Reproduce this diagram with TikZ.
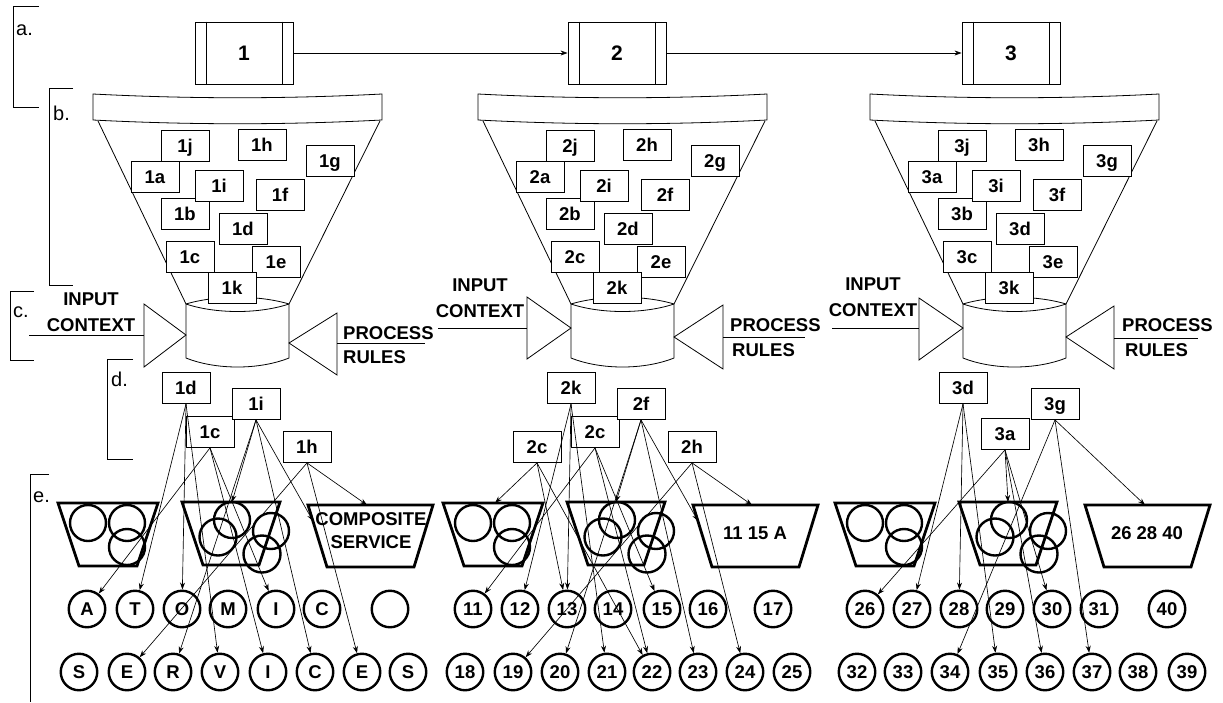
\documentclass[tikz,border=0pt]{standalone}
\usepackage{fontspec}
\setmainfont{Liberation Sans}
\usetikzlibrary{arrows.meta,calc}
\begin{document}
\begin{tikzpicture}[x=1pt,y=-1pt,
  fl/.style={line width=0.8pt},
  brk/.style={line width=0.8pt},
  blbl/.style={font=\fontsize{20}{20}\selectfont, inner sep=0pt},
  ibox/.style={draw, fill=white, line width=0.8pt, minimum width=48pt, minimum height=31pt, inner sep=0pt, text height=13pt, text depth=0pt, font=\fontsize{18.5}{18.5}\selectfont\bfseries},
  pbox/.style={draw, fill=white, line width=0.9pt, minimum width=98pt, minimum height=62pt, inner sep=0pt, font=\fontsize{21}{21}\selectfont\bfseries},
  svc/.style={circle, draw, line width=2.4pt, minimum size=36.5pt, inner sep=0pt, text height=13pt, text depth=0pt, font=\fontsize{18.5}{18.5}\selectfont\bfseries},
  lbl/.style={font=\fontsize{18.5}{26}\selectfont\bfseries, inner sep=0pt, align=center},
  trap/.style={line width=2.8pt, line join=miter},
  cir/.style={line width=2.4pt},
  arr/.style={line width=0.65pt, -{Stealth[length=7pt,width=5pt]}},
]
\useasboundingbox (0,0) rectangle (1223,702);

% ---------- brackets ----------
\draw[brk] (39,6) -- (13,6) -- (13,107) -- (39,107);
\node[blbl, anchor=base west] (la) at (16,35) {a.};
\draw[brk] (73,88) -- (49,88) -- (49,285) -- (73,285);
\node[blbl, anchor=base west] (lb) at (53,120) {b.};
\draw[brk] (34,291) -- (10,291) -- (10,360) -- (34,360);
\node[blbl, anchor=base west] (lc) at (13,317) {c.};
\draw[brk] (133,359) -- (107,359) -- (107,459) -- (133,459);
\node[blbl, anchor=base west] (ld) at (111,386) {d.};
\draw[brk] (49,474) -- (30,474) -- (30,702);
\node[blbl, anchor=base west] (le) at (33,502) {e.};

% ---------- process boxes ----------
\node[pbox] (P1) at (244,53) {1};
\node[pbox] (P2) at (617,53) {2};
\node[pbox] (P3) at (1011,53) {3};
\foreach \p in {P1,P2,P3} {
  \draw[line width=0.9pt] ($(\p.north west)+(12,0)$) -- ($(\p.south west)+(12,0)$);
  \draw[line width=0.9pt] ($(\p.north east)+(-11,0)$) -- ($(\p.south east)+(-11,0)$);
}
\draw[arr] (P1) -- (P2);
\draw[arr] (P2) -- (P3);

% ---------- funnels and cylinders ----------
\foreach \dx in {0,385,777} {
  \draw[fl] (93+\dx,94) .. controls (190+\dx,99) and (285+\dx,99) .. (382+\dx,94) -- (382+\dx,120) .. controls (285+\dx,125) and (190+\dx,125) .. (93+\dx,120) -- cycle;
  \draw[fl] (98+\dx,121) -- (186+\dx,304);
  \draw[fl] (380+\dx,121) -- (289+\dx,304);
  \draw[fl] (186+\dx,304) .. controls (216+\dx,295) and (259+\dx,295) .. (289+\dx,304);
  \draw[fl] (186+\dx,304) .. controls (216+\dx,314) and (259+\dx,314) .. (289+\dx,304);
  \draw[fl] (186+\dx,304) -- (186+\dx,358) .. controls (216+\dx,370) and (259+\dx,370) .. (289+\dx,358) -- (289+\dx,304);
}

% ---------- input / process triangles ----------
\draw[fl] (144,304) -- (186,335) -- (144,367) -- cycle;
\draw[fl] (29,335) -- (144,335);
\draw[fl] (337,313) -- (289,343) -- (337,375) -- cycle;
\draw[fl] (337,343) -- (425,343);
\draw[fl] (527,297) -- (571,328) -- (527,359) -- cycle;
\draw[fl] (438,328) -- (527,328);
\draw[fl] (723,305) -- (674,337) -- (723,369) -- cycle;
\draw[fl] (723,337) -- (805,337);
\draw[fl] (919,298) -- (963,328) -- (919,360) -- cycle;
\draw[fl] (832,328) -- (919,328);
\draw[fl] (1114,306) -- (1066,337) -- (1114,369) -- cycle;
\draw[fl] (1114,338) -- (1198,338);

\node[lbl] (ic1) at (91,312) {INPUT\\CONTEXT};
\node[lbl] (ic2) at (480,298) {INPUT\\CONTEXT};
\node[lbl] (ic3) at (873,297) {INPUT\\CONTEXT};
\node[lbl, anchor=west] (pr1) at (343,333) {PROCESS};
\node[lbl, anchor=west] (ru1) at (343,357) {RULES};
\node[lbl, anchor=west] (pr2) at (730,325) {PROCESS};
\node[lbl, anchor=west] (ru2) at (732,350) {RULES};
\node[lbl, anchor=west] (pr3) at (1122,325) {PROCESS};
\node[lbl, anchor=west] (ru3) at (1125,350) {RULES};

% ---------- boxes inside the funnels ----------
\foreach \dx/\g in {0/1,385/2,777/3} {
  \foreach \n/\x/\y in {j/185/146, h/262/145, g/330/161, a/155/177, f/280/195, b/185/214, i/219/186, d/243/229, c/190/257, e/276/262, k/232/288}
    \node[ibox] (f\g\n) at (\x+\dx,\y) {\g\n};
}

% ---------- service containers ----------
\foreach \dx in {0,385,777} {
  \draw[trap] (58+\dx,503) -- (158+\dx,503) -- (137+\dx,566) -- (79+\dx,566) -- cycle;
  \draw[cir] (88+\dx,523) circle[radius=18pt];
  \draw[cir] (127+\dx,523) circle[radius=18pt];
  \draw[cir] (127+\dx,547) circle[radius=18pt];
  \draw[trap] (182+\dx,502) -- (280+\dx,502) -- (259+\dx,565) -- (203+\dx,565) -- cycle;
  \draw[cir] (232+\dx,520) circle[radius=18pt];
  \draw[cir] (218+\dx,537) circle[radius=18.5pt];
  \draw[cir] (271+\dx,531) circle[radius=18pt];
  \draw[cir] (262+\dx,554) circle[radius=18.5pt];
  \draw[trap] (308+\dx,505) -- (433+\dx,505) -- (414+\dx,567) -- (327+\dx,567) -- cycle;
}
\node[lbl, font=\fontsize{18.5}{23}\selectfont\bfseries] (cs1) at (371,531) {COMPOSITE\\SERVICE};
\node[lbl] (cs2) at (755,533) {11 15 A};
\node[lbl] (cs3) at (1147,533) {26 28 40};

\coordinate (tB1) at (232,502);
\coordinate (tCl1) at (313,521);
\coordinate (tCt1) at (367,505);
\coordinate (tA2) at (495,503);
\coordinate (tB2) at (616,502);
\coordinate (tCl2) at (698,521);
\coordinate (tCt2) at (752,505);
\coordinate (tB3) at (1008,502);
\coordinate (tCt3) at (1145,505);

% ---------- service circles ----------
\foreach \x/\t [count=\i] in {87/A,135/T,182/O,228/M,276/I,322/C,390/{}}
  \node[svc] (g1a\i) at (\x,609) {\t};
\foreach \x/\t [count=\i] in {79/S,127/E,173/R,220/V,268/I,315/C,362/E,408/S}
  \node[svc] (g1b\i) at (\x,672) {\t};
\foreach \x/\t [count=\i] in {473/11,520/12,567/13,613/14,662/15,708/16,773/17}
  \node[svc] (g2a\i) at (\x,609) {\t};
\foreach \x/\t [count=\i] in {465/18,513/19,560/20,607/21,652/22,698/23,745/24,792/25}
  \node[svc] (g2b\i) at (\x,672) {\t};
\foreach \x/\t [count=\i] in {865/26,912/27,959/28,1005/29,1052/30,1099/31,1167/40}
  \node[svc] (g3a\i) at (\x,609) {\t};
\foreach \x/\t [count=\i] in {857/32,903/33,950/34,998/35,1045/36,1092/37,1138/38,1187/39}
  \node[svc] (g3b\i) at (\x,672) {\t};

% ---------- selected element boxes ----------
\node[ibox] (d1d) at (186,388) {1d};
\node[ibox] (d1c) at (210,432) {1c};
\node[ibox] (d1i) at (256,404) {1i};
\node[ibox] (d1h) at (307,447) {1h};
\node[ibox] (d2k) at (571,388) {2k};
\node[ibox] (d2c) at (595,432) {2c};
\node[ibox] (d2f) at (641,404) {2f};
\node[ibox] (d2cx) at (537,447) {2c};
\node[ibox] (d2h) at (692,447) {2h};
\node[ibox] (d3d) at (963,388) {3d};
\node[ibox] (d3a) at (1005,434) {3a};
\node[ibox] (d3g) at (1055,404) {3g};

% ---------- connectors ----------
\foreach \t in {g1a2,g1a3,g1b4} \draw[arr] (d1d.south) -- (\t);
\foreach \t in {g1a1,g1a5,g1b5} \draw[arr] (d1c.south) -- (\t);
\foreach \t in {tB1,g1b3,g1b6,tCl1} \draw[arr] (d1i.south) -- (\t);
\foreach \t in {tCt1,g1b2,g1b7} \draw[arr] (d1h.south) -- (\t);

\foreach \t in {g2a2,g2a3,g2b4} \draw[arr] (d2k.south) -- (\t);
\foreach \t in {g2a1,g2a5,g2b5} \draw[arr] (d2c.south) -- (\t);
\foreach \t in {tA2,g2a3,g2b5} \draw[arr] (d2cx.south) -- (\t);
\foreach \t in {tB2,g2b3,g2b6,tCl2} \draw[arr] (d2f.south) -- (\t);
\foreach \t in {tCt2,g2b2,g2b7} \draw[arr] (d2h.south) -- (\t);

\foreach \t in {g3a2,g3a3,g3b4} \draw[arr] (d3d.south) -- (\t);
\foreach \t in {g3a1,tB3,g3a5,g3b5} \draw[arr] (d3a.south) -- (\t);
\foreach \t in {tCt3,g3b3,g3b6} \draw[arr] (d3g.south) -- (\t);
\end{tikzpicture}
\end{document}
